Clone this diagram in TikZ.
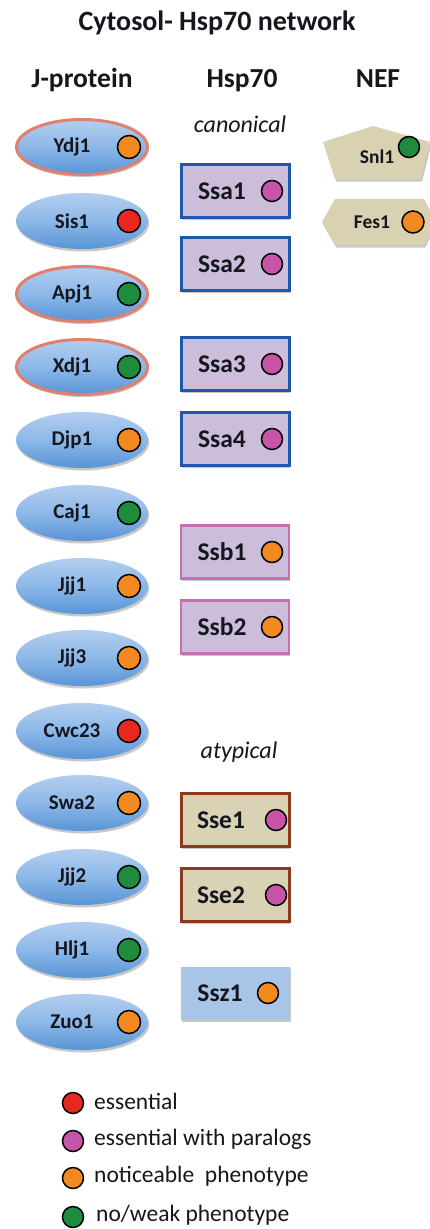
\documentclass[tikz,border=0pt]{standalone}
\usepackage{fontspec}
\setmainfont{Carlito}
\usetikzlibrary{shapes.geometric,shadows}
\definecolor{ink}{RGB}{22,22,30}
\definecolor{jtop}{RGB}{178,206,240}
\definecolor{jmid}{RGB}{140,184,232}
\definecolor{jbot}{RGB}{88,148,214}
\definecolor{salmon}{RGB}{226,128,112}
\definecolor{ssafill}{RGB}{204,190,218}
\definecolor{ssaline}{RGB}{30,88,168}
\definecolor{ssbline}{RGB}{196,112,180}
\definecolor{ssefill}{RGB}{218,210,180}
\definecolor{sseline}{RGB}{140,58,30}
\definecolor{sszfill}{RGB}{168,196,230}
\definecolor{neffill}{RGB}{216,209,178}
\definecolor{cred}{RGB}{232,40,30}
\definecolor{cmag}{RGB}{200,84,168}
\definecolor{cora}{RGB}{242,138,33}
\definecolor{cgrn}{RGB}{30,140,60}
\newcommand\JPnode[5]{%
  \node[jprot,#4] (#1) at (82,#2) {};
  \node[jlab] (#1-l) at (72,#2) {#5};
  \node[dot,fill=#3] (#1-d) at (129,#2) {};
}
\newcommand\HSnode[7]{%
  \node[#3] (#1) at (235,#2) {};
  \node[hlab] (#1-l) at (#6,#2) {#4};
  \node[dot,minimum size=21pt,fill=#5] (#1-d) at (#7,#2) {};
}
\begin{document}
\begin{tikzpicture}[x=1pt,y=-1pt,
  txt/.style={text=ink,inner sep=0pt},
  title/.style={txt,font=\fontsize{28}{32}\selectfont\bfseries,anchor=base},
  head/.style={txt,font=\fontsize{27.5}{32}\selectfont\bfseries,anchor=base},
  sub/.style={txt,font=\fontsize{24}{28}\selectfont\itshape,anchor=base},
  shad/.style={drop shadow={shadow xshift=1.2pt,shadow yshift=-2.5pt,opacity=0.3,fill=black!70}},
  jprot/.style={ellipse,minimum width=132pt,minimum height=56pt,inner sep=0pt,
    top color=jtop,bottom color=jbot,middle color=jmid,shad},
  ring/.style={draw=salmon,line width=3pt,minimum width=131pt,minimum height=55pt},
  jlab/.style={txt,font=\fontsize{21}{25}\selectfont\bfseries},
  hlab/.style={txt,font=\fontsize{25.5}{30}\selectfont\bfseries},
  nlab/.style={txt,font=\fontsize{19.5}{23}\selectfont\bfseries},
  dot/.style={circle,draw=black,line width=1.5pt,minimum size=23pt,inner sep=0pt},
  hbox/.style={rectangle,minimum width=108pt,minimum height=53pt,inner sep=0pt,shad},
  ssa/.style={hbox,fill=ssafill,draw=ssaline,line width=3pt},
  ssb/.style={hbox,fill=ssafill,draw=ssbline,line width=2.5pt},
  sse/.style={hbox,fill=ssefill,draw=sseline,line width=3pt},
  ssz/.style={hbox,fill=sszfill,minimum width=109pt},
  nef/.style={fill=neffill,shad},
  leg/.style={txt,font=\fontsize{23.5}{28}\selectfont,anchor=west}
]
\useasboundingbox[fill=white] (0,0) rectangle (429,1229);

% titles
\node[title] (title) at (217,30) {Cytosol- Hsp70 network};
\node[head] (hJ) at (82,87) {J-protein};
\node[head] (hH) at (242,87) {Hsp70};
\node[head] (hN) at (378,87) {NEF};
\node[sub] (canon) at (240,132) {canonical};
\node[sub] (atyp) at (239,758) {atypical};

% J-proteins
\JPnode{Ydj1}{147}{cora}{ring}{Ydj1}
\JPnode{Sis1}{221}{cred}{}{Sis1}
\JPnode{Apj1}{294}{cgrn}{ring}{Apj1}
\JPnode{Xdj1}{367}{cgrn}{ring}{Xdj1}
\JPnode{Djp1}{440}{cora}{}{Djp1}
\JPnode{Caj1}{513}{cgrn}{}{Caj1}
\JPnode{Jjj1}{586}{cora}{}{Jjj1}
\JPnode{Jjj3}{658}{cora}{}{Jjj3}
\JPnode{Cwc23}{731}{cred}{}{Cwc23}
\JPnode{Swa2}{803}{cora}{}{Swa2}
\JPnode{Jjj2}{877}{cgrn}{}{Jjj2}
\JPnode{Hlj1}{950}{cgrn}{}{Hlj1}
\JPnode{Zuo1}{1022}{cora}{}{Zuo1}

% Hsp70
\HSnode{Ssa1}{191}{ssa}{Ssa1}{cmag}{222}{272}
\HSnode{Ssa2}{264}{ssa}{Ssa2}{cmag}{222}{272}
\HSnode{Ssa3}{364}{ssa}{Ssa3}{cmag}{222}{272}
\HSnode{Ssa4}{439}{ssa}{Ssa4}{cmag}{222}{272}
\HSnode{Ssb1}{552}{ssb}{Ssb1}{cora}{222}{272}
\HSnode{Ssb2}{627}{ssb}{Ssb2}{cora}{222}{272}
\HSnode{Sse1}{820}{sse}{Sse1}{cmag}{221}{276}
\HSnode{Sse2}{895}{sse}{Sse2}{cmag}{221}{276}
\HSnode{Ssz1}{993}{ssz}{Ssz1}{cora}{220}{268}

% NEF
\path[nef] (373,126) -- (430,142) -- (421,179) -- (335,179) -- (323,142) -- cycle;
\node[nlab] (Snl1) at (377,157) {Snl1};
\node[dot,minimum size=21pt,fill=cgrn] (Snl1-d) at (409,147) {};
\path[nef] (322,222) -- (335,199) -- (424,199) -- (436,222) -- (424,245) -- (335,245) -- cycle;
\node[nlab] (Fes1) at (372,222) {Fes1};
\node[dot,minimum size=22pt,fill=cora] (Fes1-d) at (413,222) {};

% legend
\node[dot,minimum size=21pt,fill=cred] (l1) at (73,1103) {};
\node[leg] (l1t) at (94,1101) {essential};
\node[dot,minimum size=21pt,fill=cmag] (l2) at (73,1141) {};
\node[leg] (l2t) at (94,1139) {essential with paralogs};
\node[dot,minimum size=21pt,fill=cora] (l3) at (73,1178) {};
\node[leg] (l3t) at (94,1176) {noticeable\ \ phenotype};
\node[dot,minimum size=21pt,fill=cgrn] (l4) at (73,1217) {};
\node[leg] (l4t) at (96,1215) {no/weak phenotype};
\end{tikzpicture}
\end{document}
